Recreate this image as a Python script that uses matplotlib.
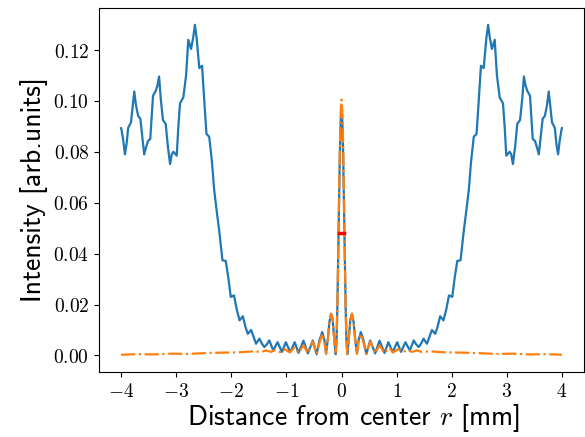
import matplotlib
matplotlib.use("Agg")
import matplotlib.pyplot as plt

plt.rcParams['mathtext.fontset'] = 'cm'

# Blue curve (full profile)
r_blue = [-4.00, -3.99, -3.96, -3.93, -3.90, -3.87, -3.82, -3.79, -3.76, -3.73, -3.69, -3.65, -3.61, -3.58, -3.55, -3.51,
          -3.47, -3.42, -3.37, -3.34, -3.31, -3.28, -3.24, -3.19, -3.15, -3.11, -3.08, -3.05, -2.99, -2.96, -2.93,
          -2.87, -2.82, -2.78, -2.73, -2.69, -2.66, -2.63, -2.58, -2.53, -2.49, -2.45, -2.40, -2.35,
          -2.31, -2.26, -2.22, -2.16, -2.10, -2.05, -2.01, -1.95, -1.90, -1.85, -1.79, -1.74, -1.70, -1.64, -1.59,
          -1.55, -1.49, -1.44, -1.40, -1.35, -1.31,
          -1.24, -1.16, -1.08, -1.01, -0.93, -0.85, -0.78, -0.69, -0.61, -0.52, -0.45, -0.40, -0.35, -0.31,
          -0.28, -0.25, -0.22, -0.19, -0.16, -0.13, -0.105, -0.09, -0.075, -0.06, -0.045, -0.03, -0.015,
          0.0,
          0.015, 0.03, 0.045, 0.06, 0.075, 0.09, 0.105, 0.13, 0.16, 0.19, 0.22, 0.25, 0.28, 0.31, 0.35,
          0.40, 0.45, 0.52, 0.61, 0.69, 0.78, 0.85, 0.93, 1.01, 1.08, 1.16, 1.24,
          1.31, 1.35, 1.40, 1.44, 1.49, 1.55,
          1.59, 1.64, 1.70, 1.74, 1.79, 1.85, 1.90, 1.95, 2.01, 2.05, 2.10, 2.16, 2.22, 2.26, 2.31,
          2.35, 2.40, 2.45, 2.49, 2.53, 2.58, 2.63, 2.66, 2.69, 2.73, 2.78, 2.82, 2.87,
          2.93, 2.96, 2.99, 3.05, 3.08, 3.11, 3.15, 3.19, 3.24, 3.28, 3.31, 3.34, 3.37, 3.42,
          3.47, 3.51, 3.55, 3.58, 3.61, 3.65, 3.69, 3.73, 3.76, 3.79, 3.82, 3.87, 3.90, 3.93, 3.96, 3.99, 4.00]
i_blue = [0.0893, 0.0885, 0.0845, 0.0790, 0.0830, 0.0895, 0.0915, 0.0975, 0.1037, 0.0985, 0.0941, 0.0930, 0.0850, 0.0790, 0.0815, 0.0843,
          0.0850, 0.1020, 0.1040, 0.1060, 0.1096, 0.1010, 0.0925, 0.0910, 0.0820, 0.0752, 0.0790, 0.0800, 0.0785, 0.0900, 0.0990,
          0.1014, 0.1100, 0.1240, 0.1204, 0.1250, 0.1299, 0.1250, 0.1129, 0.1138, 0.1000, 0.0870, 0.0859, 0.0760,
          0.0650, 0.0560, 0.0492, 0.0374, 0.0371, 0.0300, 0.0230, 0.0236, 0.0180, 0.0138, 0.0154, 0.0110, 0.0085, 0.0100, 0.0070,
          0.0046, 0.0066, 0.0045, 0.0033, 0.0045, 0.0059,
          0.0020, 0.0052, 0.0014, 0.0052, 0.0013, 0.0052, 0.0010, 0.0058, 0.0008, 0.0059, 0.0005, 0.0060, 0.0092, 0.0060,
          0.0008, 0.0060, 0.0130, 0.0164, 0.0140, 0.0060, 0.0005, 0.0060, 0.0190, 0.0380, 0.0590, 0.0790, 0.0920,
          0.0965,
          0.0920, 0.0790, 0.0590, 0.0380, 0.0190, 0.0060, 0.0005, 0.0060, 0.0140, 0.0164, 0.0130, 0.0060, 0.0008, 0.0060, 0.0092,
          0.0060, 0.0005, 0.0059, 0.0008, 0.0058, 0.0010, 0.0052, 0.0013, 0.0052, 0.0014, 0.0052, 0.0020,
          0.0059, 0.0045, 0.0033, 0.0045, 0.0066, 0.0046,
          0.0070, 0.0100, 0.0085, 0.0110, 0.0154, 0.0138, 0.0180, 0.0236, 0.0230, 0.0300, 0.0371, 0.0374, 0.0492, 0.0560, 0.0650,
          0.0760, 0.0859, 0.0870, 0.1000, 0.1138, 0.1129, 0.1250, 0.1299, 0.1250, 0.1204, 0.1240, 0.1100, 0.1014,
          0.0990, 0.0900, 0.0785, 0.0800, 0.0790, 0.0752, 0.0820, 0.0910, 0.0925, 0.1010, 0.1096, 0.1060, 0.1040, 0.1020,
          0.0850, 0.0843, 0.0815, 0.0790, 0.0850, 0.0930, 0.0941, 0.0985, 0.1037, 0.0975, 0.0915, 0.0895, 0.0830, 0.0790, 0.0845, 0.0885, 0.0893]

# Orange curve (full profile)
r_orange = [-4.00, -3.70, -3.40, -3.10, -2.80, -2.50, -2.20, -1.90, -1.60, -1.45, -1.37, -1.28, -1.20, -1.11,
            -1.03, -0.94, -0.86, -0.78, -0.69, -0.61, -0.52, -0.45, -0.40, -0.35, -0.31, -0.28, -0.25, -0.22,
            -0.19, -0.16, -0.13, -0.105, -0.09, -0.075, -0.06, -0.045, -0.03, -0.015,
            0.0,
            0.015, 0.03, 0.045, 0.06, 0.075, 0.09, 0.105, 0.13, 0.16, 0.19, 0.22, 0.25, 0.28, 0.31, 0.35,
            0.40, 0.45, 0.52, 0.61, 0.69, 0.78, 0.86, 0.94, 1.03, 1.11, 1.20, 1.28, 1.37, 1.45, 1.60, 1.90,
            2.20, 2.50, 2.80, 3.10, 3.40, 3.70, 4.00]
i_orange = [0.0003, 0.0005, 0.0004, 0.0007, 0.0006, 0.0009, 0.0011, 0.0012, 0.0016, 0.0014, 0.0020, 0.0014, 0.0022, 0.0013,
            0.0025, 0.0012, 0.0030, 0.0010, 0.0040, 0.0008, 0.0055, 0.0006, 0.0050, 0.0085, 0.0055, 0.0006, 0.0060, 0.0130,
            0.0164, 0.0140, 0.0060, 0.0005, 0.0060, 0.0190, 0.0390, 0.0610, 0.0820, 0.0960,
            0.1005,
            0.0960, 0.0820, 0.0610, 0.0390, 0.0190, 0.0060, 0.0005, 0.0060, 0.0140, 0.0164, 0.0130, 0.0060, 0.0006, 0.0055, 0.0085,
            0.0050, 0.0006, 0.0055, 0.0008, 0.0040, 0.0010, 0.0030, 0.0012, 0.0025, 0.0013, 0.0022, 0.0014, 0.0020, 0.0014, 0.0016, 0.0012,
            0.0011, 0.0009, 0.0006, 0.0007, 0.0004, 0.0005, 0.0003]

# FWHM marker
fwhm_r = [-0.04, 0.04]
fwhm_i = [0.048, 0.048]

x_ticks = [-4, -3, -2, -1, 0, 1, 2, 3, 4]
x_tick_labels = ['$-4$', '$-3$', '$-2$', '$-1$', '$0$', '$1$', '$2$', '$3$', '$4$']
y_ticks = [0.00, 0.02, 0.04, 0.06, 0.08, 0.10, 0.12]
y_tick_labels = ['$0.00$', '$0.02$', '$0.04$', '$0.06$', '$0.08$', '$0.10$', '$0.12$']

fig = plt.figure(figsize=(5.85, 4.37), dpi=100)
ax = fig.add_axes([99 / 585, 65 / 437, 485 / 585, 364 / 437])

ax.plot(r_blue, i_blue, color='#1f77b4', lw=1.6, solid_joinstyle='round')
ax.plot(r_orange, i_orange, color='#ff7f0e', lw=1.6, ls='-.')
ax.plot(fwhm_r, fwhm_i, color='red', lw=2.5)

ax.set_xlim(-4.4, 4.4)
ax.set_ylim(-0.0065, 0.1365)
ax.set_xticks(x_ticks)
ax.set_xticklabels(x_tick_labels, fontsize=14)
ax.set_yticks(y_ticks)
ax.set_yticklabels(y_tick_labels, fontsize=14)

ax.set_xlabel('Distance from center $r$ [mm]', fontsize=20, fontfamily='cmss10')
ax.set_ylabel('Intensity [arb.units]', fontsize=20, fontfamily='cmss10')
ax.xaxis.set_label_coords(0.525, -0.083)

fig.savefig('out.png', dpi=100)
